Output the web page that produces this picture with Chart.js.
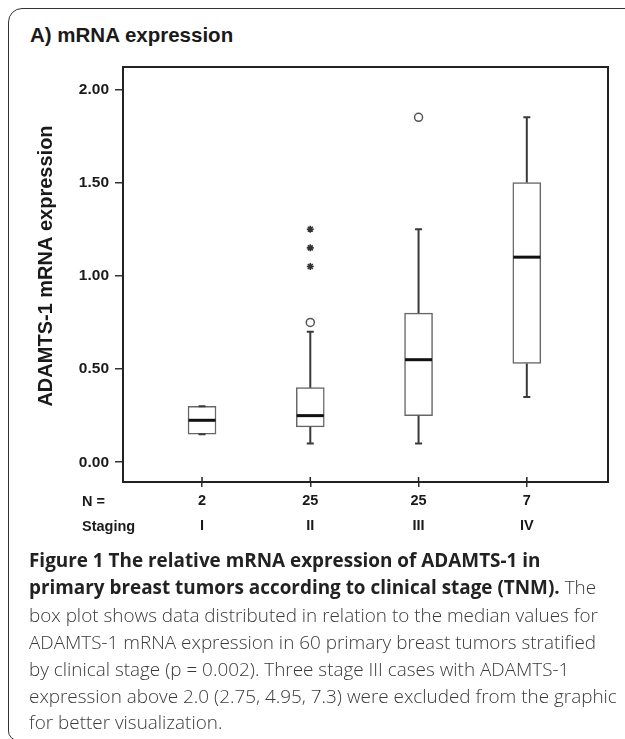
<!DOCTYPE html>
<html>
<head>
<meta charset="utf-8">
<script src="https://cdn.jsdelivr.net/npm/chart.js@4.4.1/dist/chart.umd.min.js"></script>
<style>
  html, body { margin: 0; padding: 0; background: #fff; }
  #page { position: relative; width: 625px; height: 739px; overflow: hidden; background: #fff; }
  #frame { position: absolute; left: 8px; top: 8px; width: 660px; height: 733px; box-sizing: border-box;
           border: 1.5px solid #333; border-top-left-radius: 14px; border-bottom-left-radius: 10px; }
  #chart { position: absolute; left: 0; top: 0; }
  .title { position: absolute; left: 30px; top: 25px; font: bold 20.5px "Liberation Sans", Arial, sans-serif;
           line-height: 20px; color: #1a1a1a; white-space: nowrap; }
  .rowlab { position: absolute; left: 82px; font: bold 14.5px "Liberation Sans", Arial, sans-serif;
            line-height: 20px; color: #1a1a1a; white-space: nowrap; }
  .cap { position: absolute; left: 29px; font-family: "Open Sans", sans-serif; font-size: 18px; line-height: 24px;
         color: #3a3a3a; font-weight: 300; white-space: nowrap; }
  .cap b { font-weight: 700; color: #222; }
</style>
</head>
<body>
<div id="page">
  <div id="frame"></div>
  <div class="title">A) mRNA expression</div>
  <canvas id="chart" width="625" height="739"></canvas>
  <div class="rowlab" style="top:491px">N =</div>
  <div class="rowlab" style="top:516px">Staging</div>
  <div class="cap" style="top:548px"><b>Figure 1 The relative mRNA expression of ADAMTS-1 in</b></div>
  <div class="cap" style="top:575px"><b>primary breast tumors according to clinical stage (TNM).</b> The</div>
  <div class="cap" style="top:603px">box plot shows data distributed in relation to the median values for</div>
  <div class="cap" style="top:630px">ADAMTS-1 mRNA expression in 60 primary breast tumors stratified</div>
  <div class="cap" style="top:657px">by clinical stage (p = 0.002). Three stage III cases with ADAMTS-1</div>
  <div class="cap" id="longest" style="top:684px">expression above 2.0 (2.75, 4.95, 7.3) were excluded from the graphic</div>
  <div class="cap" style="top:710px">for better visualization.</div>
</div>
<script>
// stage groups
const stages = ['I', 'II', 'III', 'IV'];
const nCases = [2, 25, 25, 7];
const stagePos = [1, 2, 3, 4];

// box plot summaries
const q1 = [0.15, 0.19, 0.25, 0.53];
const median = [0.225, 0.25, 0.55, 1.10];
const q3 = [0.30, 0.40, 0.80, 1.50];
const whiskerLow = [0.15, 0.10, 0.10, 0.35];
const whiskerHigh = [0.30, 0.70, 1.25, 1.85];

// outliers (circles) and extremes (stars)
const outlierStage = [2, 3];
const outlierValue = [0.75, 1.85];
const extremeStage = [2, 2, 2];
const extremeValue = [1.05, 1.15, 1.25];

const yTicks = [0, 0.5, 1, 1.5, 2];

// fit caption size to the longest line
const longest = document.getElementById('longest');
const capSize = 18 * 588 / longest.getBoundingClientRect().width;
document.querySelectorAll('.cap').forEach(el => { el.style.fontSize = capSize.toFixed(2) + 'px'; });

const boxParts = {
  id: 'boxParts',
  afterDatasetsDraw(chart) {
    const {ctx, scales: {x, y}} = chart;
    ctx.save();
    stagePos.forEach((pos, i) => {
      const px = x.getPixelForValue(pos);
      // whiskers
      ctx.strokeStyle = '#3a3a3a';
      ctx.lineWidth = 2;
      ctx.beginPath();
      ctx.moveTo(px, y.getPixelForValue(q3[i]));
      ctx.lineTo(px, y.getPixelForValue(whiskerHigh[i]));
      ctx.moveTo(px, y.getPixelForValue(q1[i]));
      ctx.lineTo(px, y.getPixelForValue(whiskerLow[i]));
      [whiskerHigh[i], whiskerLow[i]].forEach(v => {
        const py = y.getPixelForValue(v);
        ctx.moveTo(px - 3.5, py);
        ctx.lineTo(px + 3.5, py);
      });
      ctx.stroke();
      // median
      ctx.strokeStyle = '#111';
      ctx.lineWidth = 3;
      ctx.beginPath();
      const pm = y.getPixelForValue(median[i]);
      ctx.moveTo(px - 13.5, pm);
      ctx.lineTo(px + 13.5, pm);
      ctx.stroke();
    });
    ctx.restore();
  },
  afterDraw(chart) {
    const {ctx, chartArea: a, scales: {x}} = chart;
    ctx.save();
    ctx.strokeStyle = '#222';
    ctx.lineWidth = 2;
    ctx.strokeRect(a.left, a.top, a.right - a.left, a.bottom - a.top);
    ctx.lineWidth = 1.5;
    ctx.beginPath();
    stagePos.forEach(pos => {
      const px = x.getPixelForValue(pos);
      ctx.moveTo(px, a.bottom - 5);
      ctx.lineTo(px, a.bottom);
    });
    ctx.stroke();
    // y axis title, a little above the plot's middle as in the figure
    ctx.translate(46, 266);
    ctx.rotate(-Math.PI / 2);
    ctx.fillStyle = '#1a1a1a';
    ctx.font = 'bold 20px "Liberation Sans", Arial, sans-serif';
    ctx.textAlign = 'center';
    ctx.textBaseline = 'middle';
    ctx.fillText('ADAMTS-1 mRNA expression', 0, 0);
    ctx.restore();
  }
};

new Chart(document.getElementById('chart'), {
  type: 'bar',
  data: {
    datasets: [
      {
        type: 'bar',
        data: stagePos.map((pos, i) => ({x: pos, y: [q1[i], q3[i]]})),
        backgroundColor: '#fff',
        borderColor: '#666',
        borderWidth: 1.5,
        borderSkipped: false,
        barThickness: 28,
        grouped: false
      },
      {
        type: 'scatter',
        data: outlierStage.map((s, i) => ({x: s, y: outlierValue[i]})),
        pointStyle: 'circle',
        pointRadius: 4,
        pointBorderWidth: 1.5,
        borderColor: '#555',
        backgroundColor: '#fff'
      },
      {
        type: 'scatter',
        data: extremeStage.map((s, i) => ({x: s, y: extremeValue[i]})),
        pointStyle: 'star',
        pointRadius: 3.5,
        pointBorderWidth: 1.6,
        borderColor: '#333',
        backgroundColor: '#333'
      }
    ]
  },
  options: {
    responsive: false,
    animation: false,
    layout: {padding: {left: 0, top: 67, right: 17, bottom: 0}},
    plugins: {legend: {display: false}, tooltip: {enabled: false}},
    scales: {
      x: {
        type: 'linear',
        offset: false,
        min: 0.27,
        max: 4.75,
        afterFit: s => { s.height = 739 - 482; },
        afterBuildTicks: s => { s.ticks = stagePos.map(v => ({value: v})); },
        border: {display: false},
        grid: {offset: false, drawOnChartArea: false, tickLength: 5, color: '#333', lineWidth: 1.5},
        ticks: {
          padding: 1,
          color: '#1a1a1a',
          maxRotation: 0,
          font: {family: '"Liberation Sans", Arial, sans-serif', size: 14.5, weight: 'bold', lineHeight: '25px'},
          callback: v => {
            const i = stagePos.indexOf(v);
            return [String(nCases[i]), stages[i]];
          }
        }
      },
      y: {
        min: -0.106,
        max: 2.12,
        afterFit: s => { s.width = 123; },
        afterBuildTicks: s => { s.ticks = yTicks.map(v => ({value: v})); },
        border: {display: false},
        grid: {drawOnChartArea: false, tickLength: 8, color: '#333', lineWidth: 1.5},
        ticks: {
          padding: 6,
          color: '#1a1a1a',
          font: {family: '"Liberation Sans", Arial, sans-serif', size: 15.5, weight: 'bold'},
          callback: v => v.toFixed(2)
        }
      }
    }
  },
  plugins: [boxParts]
});
</script>
</body>
</html>
